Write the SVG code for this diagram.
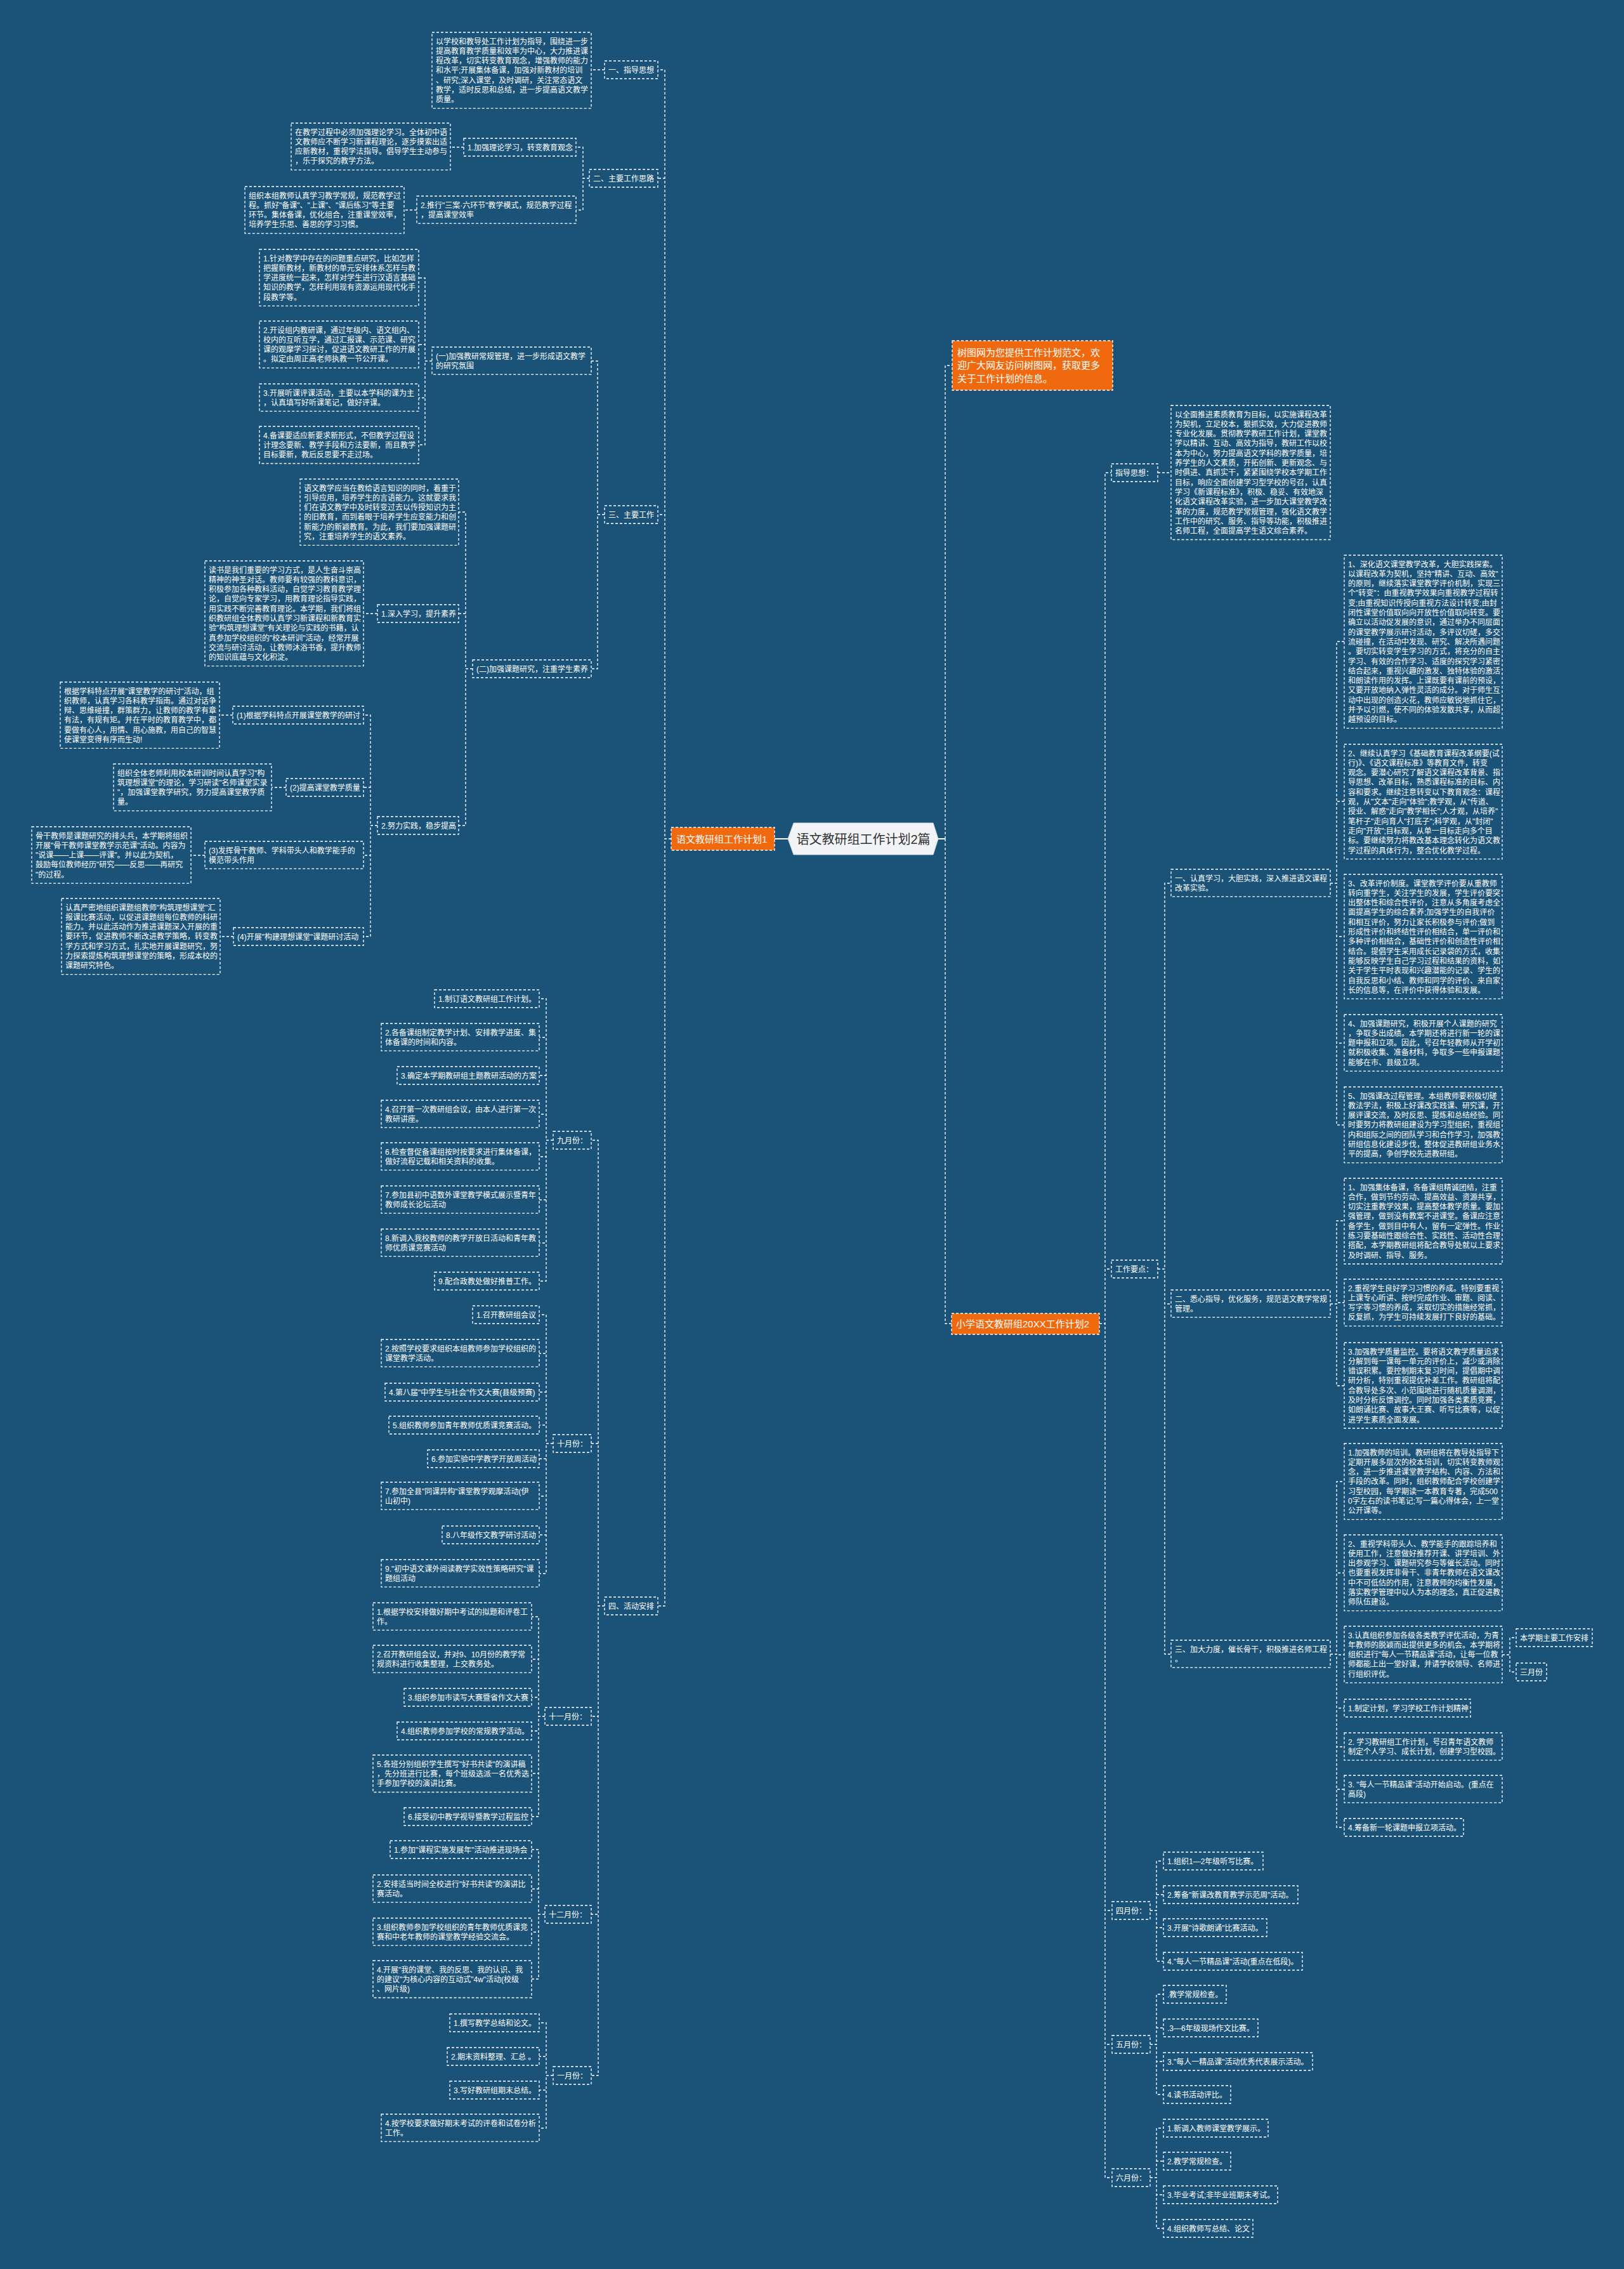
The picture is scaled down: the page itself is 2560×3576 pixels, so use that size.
<svg xmlns="http://www.w3.org/2000/svg" width="2560" height="3576" viewBox="0 0 2560 3576">
<style>
.t{font-family:"Liberation Sans","Noto Sans CJK SC",sans-serif;font-size:12px;fill:#fff}
.ot{font-family:"Liberation Sans","Noto Sans CJK SC",sans-serif;font-size:15px;fill:#fff}
.n{fill:none;stroke:#fff;stroke-width:1.3;stroke-dasharray:4 3}
.c{fill:none;stroke:#fff;stroke-width:1.3;stroke-dasharray:4 3}
.s{fill:none;stroke:#fff;stroke-width:2}
.o{fill:#F0690F;stroke:#fff;stroke-width:1.3;stroke-dasharray:4 3}
</style>
<rect width="2560" height="3576" fill="#1B5378"/>
<g id="connectors">
<path class="s" d="M1242,1322H1221M1479,1322H1490"/>
<path class="c" d="M1058,1322H1048V110H1037M1058,1322H1048V281H1037M1058,1322H1048V811H1037M1058,1322H1048V2531H1037"/>
<path class="c" d="M953,110H932"/>
<path class="c" d="M929,281H919V232H908M929,281H919V331H908"/>
<path class="c" d="M731,232H710"/>
<path class="c" d="M657,331H637"/>
<path class="c" d="M953,811H942V569H932M953,811H942V1054H932"/>
<path class="c" d="M681,569H670V438H660M681,569H670V543H660M681,569H670V627H660M681,569H670V701H660"/>
<path class="c" d="M745,1054H734V807H723M745,1054H734V967H723M745,1054H734V1301H723"/>
<path class="c" d="M595,967H573"/>
<path class="c" d="M595,1301H584V1127H573M595,1301H584V1241H573M595,1301H584V1348H573M595,1301H584V1476H573"/>
<path class="c" d="M367,1127H346M451,1241H428M323,1348H301M368,1476H347"/>
<path class="c" d="M953,2531H943V1797H932M953,2531H943V2275H932M953,2531H943V2705H932M953,2531H943V3017H932M953,2531H943V3271H932"/>
<path class="c" d="M872,1797H861V1574H850M872,1797H861V1635H850M872,1797H861V1695H850M872,1797H861V1756H850M872,1797H861V1823H850M872,1797H861V1891H850M872,1797H861V1959H850M872,1797H861V2019H850"/>
<path class="c" d="M872,2275H861V2072H850M872,2275H861V2133H850M872,2275H861V2194H850M872,2275H861V2246H850M872,2275H861V2299H850M872,2275H861V2358H850M872,2275H861V2419H850M872,2275H861V2480H850"/>
<path class="c" d="M859,2705H849V2548H838M859,2705H849V2615H838M859,2705H849V2675H838M859,2705H849V2728H838M859,2705H849V2795H838M859,2705H849V2863H838"/>
<path class="c" d="M859,3017H849V2915H838M859,3017H849V2977H838M859,3017H849V3045H838M859,3017H849V3119H838"/>
<path class="c" d="M872,3271H861V3188H850M872,3271H861V3241H850M872,3271H861V3294H850M872,3271H861V3354H850"/>
<path class="c" d="M1490,1322V576H1501M1490,1322V2086H1500"/>
<path class="c" d="M1733,2086H1742V745H1752M1733,2086H1742V2000H1752M1733,2086H1742V3011H1753M1733,2086H1742V3222H1753M1733,2086H1742V3432H1753"/>
<path class="c" d="M1825,745H1846"/>
<path class="c" d="M1825,2000H1836V1392H1846M1825,2000H1836V2055H1846M1825,2000H1836V2607H1846"/>
<path class="c" d="M2097,1392H2107V1011H2119M2097,1392H2107V1263H2119M2097,1392H2107V1476H2119M2097,1392H2107V1644H2119M2097,1392H2107V1773H2119"/>
<path class="c" d="M2097,2055H2107V1924H2119M2097,2055H2107V2053H2119M2097,2055H2107V2184H2119"/>
<path class="c" d="M2097,2607H2107V2335H2119M2097,2607H2107V2479H2119M2097,2607H2107V2608H2119M2097,2607H2107V2692H2119M2097,2607H2107V2753H2119M2097,2607H2107V2820H2119M2097,2607H2107V2880H2119"/>
<path class="c" d="M2368,2608H2380V2581H2390M2368,2608H2380V2635H2390"/>
<path class="c" d="M1813,3011H1823V2933H1834M1813,3011H1823V2986H1834M1813,3011H1823V3038H1834M1813,3011H1823V3091H1834"/>
<path class="c" d="M1813,3222H1823V3143H1834M1813,3222H1823V3196H1834M1813,3222H1823V3249H1834M1813,3222H1823V3301H1834"/>
<path class="c" d="M1813,3432H1823V3354H1834M1813,3432H1823V3406H1834M1813,3432H1823V3459H1834M1813,3432H1823V3512H1834"/>
</g>

<g id="root"><polygon points="1242,1322 1251,1297 1471,1297 1479,1322 1471,1347 1251,1347" fill="#F2F4F7" stroke="#cfd5db" stroke-width="1"/><text x="1361" y="1329.5" text-anchor="middle" font-family="Liberation Sans,Noto Sans CJK SC,sans-serif" font-size="20" fill="#333">语文教研组工作计划2篇</text></g>

<g id="plan1"><rect class="o" x="1058" y="1304" width="163" height="36"/><text class="ot" x="1066" y="1327.7">语文教研组工作计划1</text></g>
<g id="promo"><rect class="o" x="1501" y="537" width="253" height="78"/><text class="ot" x="1509" y="560.7"><tspan x="1509">树图网为您提供工作计划范文，欢</tspan><tspan x="1509" dy="20.5">迎广大网友访问树图网，获取更多</tspan><tspan x="1509" dy="20.5">关于工作计划的信息。</tspan></text></g>
<g id="plan2"><rect class="o" x="1500" y="2070" width="233" height="33"/><text class="ot" x="1507" y="2091.7">小学语文教研组20XX工作计划2</text></g>

<g id="a1"><rect class="n" x="953" y="96" width="84" height="28"/><text class="t" x="959" y="114.5">一、指导思想</text></g>
<g id="a2"><rect class="n" x="929" y="267" width="108" height="28"/><text class="t" x="935" y="285.5">二、主要工作思路</text></g>
<g id="a3"><rect class="n" x="953" y="797" width="84" height="28"/><text class="t" x="959" y="815.5">三、主要工作</text></g>
<g id="a4"><rect class="n" x="953" y="2517" width="84" height="28"/><text class="t" x="959" y="2535.5">四、活动安排</text></g>

<g id="b1"><rect class="n" x="681" y="51" width="251" height="119.7"/><text class="t" x="687" y="69.5"><tspan x="687">以学校和教导处工作计划为指导，围绕进一步</tspan><tspan x="687" dy="15.3">提高教育教学质量和效率为中心，大力推进课</tspan><tspan x="687" dy="15.3">程改革，切实转变教育观念，增强教师的能力</tspan><tspan x="687" dy="15.3">和水平;开展集体备课，加强对新教材的培训</tspan><tspan x="687" dy="15.3">、研究;深入课堂，及时调研，关注常态语文</tspan><tspan x="687" dy="15.3">教学，适时反思和总结，进一步提高语文教学</tspan><tspan x="687" dy="15.3">质量。</tspan></text></g>
<g id="b2"><rect class="n" x="731" y="218" width="177" height="28"/><text class="t" x="737" y="236.5">1.加强理论学习，转变教育观念</text></g>
<g id="b3"><rect class="n" x="657" y="309" width="251" height="43.2"/><text class="t" x="663" y="327.5"><tspan x="663">2.推行"三案·六环节"教学模式，规范教学过程</tspan><tspan x="663" dy="15.3">，提高课堂效率</tspan></text></g>
<g id="b4"><rect class="n" x="459" y="194" width="251" height="73.8"/><text class="t" x="465" y="212.5"><tspan x="465">在教学过程中必须加强理论学习。全体初中语</tspan><tspan x="465" dy="15.3">文教师应不断学习新课程理论，逐步摸索出适</tspan><tspan x="465" dy="15.3">应新教材，重视学法指导。倡导学生主动参与</tspan><tspan x="465" dy="15.3">，乐于探究的教学方法。</tspan></text></g>
<g id="b5"><rect class="n" x="386" y="294" width="251" height="73.8"/><text class="t" x="392" y="312.5"><tspan x="392">组织本组教师认真学习教学常规，规范教学过</tspan><tspan x="392" dy="15.3">程。抓好"备课"、"上课"、"课后练习"等主要</tspan><tspan x="392" dy="15.3">环节。集体备课，优化组合，注重课堂效率，</tspan><tspan x="392" dy="15.3">培养学生乐思、善思的学习习惯。</tspan></text></g>

<g id="c1"><rect class="n" x="681" y="547" width="251" height="43.2"/><text class="t" x="687" y="565.5"><tspan x="687">(一)加强教研常规管理，进一步形成语文教学</tspan><tspan x="687" dy="15.3">的研究氛围</tspan></text></g>
<g id="c2"><rect class="n" x="745" y="1040" width="187" height="28"/><text class="t" x="751" y="1058.5">(二)加强课题研究，注重学生素养</text></g>

<g id="d1"><rect class="n" x="409" y="393" width="251" height="89.1"/><text class="t" x="415" y="411.5"><tspan x="415">1.针对教学中存在的问题重点研究，比如怎样</tspan><tspan x="415" dy="15.3">把握新教材，新教材的单元安排体系怎样与教</tspan><tspan x="415" dy="15.3">学进度统一起来，怎样对学生进行汉语言基础</tspan><tspan x="415" dy="15.3">知识的教学，怎样利用现有资源运用现代化手</tspan><tspan x="415" dy="15.3">段教学等。</tspan></text></g>
<g id="d2"><rect class="n" x="409" y="506" width="251" height="73.8"/><text class="t" x="415" y="524.5"><tspan x="415">2.开设组内教研课，通过年级内、语文组内、</tspan><tspan x="415" dy="15.3">校内的互听互学，通过汇报课、示范课、研究</tspan><tspan x="415" dy="15.3">课的观摩学习探讨，促进语文教研工作的开展</tspan><tspan x="415" dy="15.3">。拟定由周正高老师执教一节公开课。</tspan></text></g>
<g id="d3"><rect class="n" x="409" y="605" width="251" height="43.2"/><text class="t" x="415" y="623.5"><tspan x="415">3.开展听课评课活动，主要以本学科的课为主</tspan><tspan x="415" dy="15.3">，认真填写好听课笔记，做好评课。</tspan></text></g>
<g id="d4"><rect class="n" x="409" y="672" width="251" height="58.5"/><text class="t" x="415" y="690.5"><tspan x="415">4.备课要适应新要求新形式，不但教学过程设</tspan><tspan x="415" dy="15.3">计理念要新、教学手段和方法要新，而且教学</tspan><tspan x="415" dy="15.3">目标要新，教后反思要不走过场。</tspan></text></g>

<g id="e1"><rect class="n" x="473" y="755" width="250" height="104.4"/><text class="t" x="479" y="773.5"><tspan x="479">语文教学应当在教给语言知识的同时，着重于</tspan><tspan x="479" dy="15.3">引导应用，培养学生的言语能力。这就要求我</tspan><tspan x="479" dy="15.3">们在语文教学中及时转变过去以传授知识为主</tspan><tspan x="479" dy="15.3">的旧教育，而到着眼于培养学生应变能力和创</tspan><tspan x="479" dy="15.3">新能力的新颖教育。为此，我们要加强课题研</tspan><tspan x="479" dy="15.3">究，注重培养学生的语文素养。</tspan></text></g>
<g id="e2"><rect class="n" x="595" y="953" width="128" height="28"/><text class="t" x="601" y="971.5">1.深入学习，提升素养</text></g>
<g id="e3"><rect class="n" x="595" y="1287" width="128" height="28"/><text class="t" x="601" y="1305.5">2.努力实践，稳步提高</text></g>
<g id="e4"><rect class="n" x="323" y="884" width="250" height="165.6"/><text class="t" x="329" y="902.5"><tspan x="329">读书是我们重要的学习方式，是人生奋斗崇高</tspan><tspan x="329" dy="15.3">精神的神圣对话。教师要有较强的教科意识，</tspan><tspan x="329" dy="15.3">积极参加各种教科活动，自觉学习教育教学理</tspan><tspan x="329" dy="15.3">论，自觉向专家学习，用教育理论指导实践，</tspan><tspan x="329" dy="15.3">用实践不断完善教育理论。本学期，我们将组</tspan><tspan x="329" dy="15.3">织教研组全体教师认真学习新课程和新教育实</tspan><tspan x="329" dy="15.3">验"构筑理想课堂"有关理论与实践的书籍，认</tspan><tspan x="329" dy="15.3">真参加学校组织的"校本研训"活动，经常开展</tspan><tspan x="329" dy="15.3">交流与研讨活动，让教师沐浴书香，提升教师</tspan><tspan x="329" dy="15.3">的知识底蕴与文化积淀。</tspan></text></g>

<g id="f1"><rect class="n" x="367" y="1113" width="206" height="28"/><text class="t" x="373" y="1131.5">(1)根据学科特点开展课堂教学的研讨</text></g>
<g id="f2"><rect class="n" x="451" y="1227" width="122" height="28"/><text class="t" x="457" y="1245.5">(2)提高课堂教学质量</text></g>
<g id="f3"><rect class="n" x="323" y="1326" width="250" height="43.2"/><text class="t" x="329" y="1344.5"><tspan x="329">(3)发挥骨干教师、学科带头人和教学能手的</tspan><tspan x="329" dy="15.3">模范带头作用</tspan></text></g>
<g id="f4"><rect class="n" x="368" y="1462" width="205" height="28"/><text class="t" x="374" y="1480.5">(4)开展"构建理想课堂"课题研讨活动</text></g>

<g id="g1"><rect class="n" x="95" y="1075" width="251" height="104.4"/><text class="t" x="101" y="1093.5"><tspan x="101">根据学科特点开展"课堂教学的研讨"活动，组</tspan><tspan x="101" dy="15.3">织教师，认真学习各科教学指南。通过对话争</tspan><tspan x="101" dy="15.3">辩、思维碰撞，群策群力，让教师的教学有章</tspan><tspan x="101" dy="15.3">有法，有规有矩。并在平时的教育教学中，都</tspan><tspan x="101" dy="15.3">要做有心人，用情、用心施教，用自己的智慧</tspan><tspan x="101" dy="15.3">使课堂变得有序而生动!</tspan></text></g>
<g id="g2"><rect class="n" x="179" y="1204" width="249" height="73.8"/><text class="t" x="185" y="1222.5"><tspan x="185">组织全体老师利用校本研训时间认真学习"构</tspan><tspan x="185" dy="15.3">筑理想课堂"的理论，学习研读"名师课堂实录</tspan><tspan x="185" dy="15.3">"，加强课堂教学研究，努力提高课堂教学质</tspan><tspan x="185" dy="15.3">量。</tspan></text></g>
<g id="g3"><rect class="n" x="50" y="1303" width="251" height="89.1"/><text class="t" x="56" y="1321.5"><tspan x="56">骨干教师是课题研究的排头兵，本学期将组织</tspan><tspan x="56" dy="15.3">开展"骨干教师课堂教学示范课"活动。内容为</tspan><tspan x="56" dy="15.3">"说课——上课——评课"。并以此为契机，</tspan><tspan x="56" dy="15.3">鼓励每位教师经历"研究——反思——再研究</tspan><tspan x="56" dy="15.3">"的过程。</tspan></text></g>
<g id="g4"><rect class="n" x="97" y="1416" width="250" height="119.7"/><text class="t" x="103" y="1434.5"><tspan x="103">认真严密地组织课题组教师"构筑理想课堂"汇</tspan><tspan x="103" dy="15.3">报课比赛活动，以促进课题组每位教师的科研</tspan><tspan x="103" dy="15.3">能力。并以此活动作为推进课题深入开展的重</tspan><tspan x="103" dy="15.3">要环节，促进教师不断改进教学策略，转变教</tspan><tspan x="103" dy="15.3">学方式和学习方式，扎实地开展课题研究，努</tspan><tspan x="103" dy="15.3">力探索提炼构筑理想课堂的策略，形成本校的</tspan><tspan x="103" dy="15.3">课题研究特色。</tspan></text></g>

<g id="m9"><rect class="n" x="872" y="1783" width="60" height="28"/><text class="t" x="878" y="1801.5">九月份：</text></g>
<g id="m10"><rect class="n" x="872" y="2261" width="60" height="28"/><text class="t" x="878" y="2279.5">十月份：</text></g>
<g id="m11"><rect class="n" x="859" y="2691" width="73" height="28"/><text class="t" x="865" y="2709.5">十一月份：</text></g>
<g id="m12"><rect class="n" x="859" y="3003" width="73" height="28"/><text class="t" x="865" y="3021.5">十二月份：</text></g>
<g id="m1"><rect class="n" x="872" y="3257" width="60" height="28"/><text class="t" x="878" y="3275.5">一月份：</text></g>

<g id="s9a"><rect class="n" x="685" y="1560" width="165" height="28"/><text class="t" x="691" y="1578.5">1.制订语文教研组工作计划。</text></g>
<g id="s9b"><rect class="n" x="601" y="1613" width="249" height="43.2"/><text class="t" x="607" y="1631.5"><tspan x="607">2.各备课组制定教学计划、安排教学进度、集</tspan><tspan x="607" dy="15.3">体备课的时间和内容。</tspan></text></g>
<g id="s9c"><rect class="n" x="626" y="1681" width="224" height="28"/><text class="t" x="632" y="1699.5">3.确定本学期教研组主题教研活动的方案</text></g>
<g id="s9d"><rect class="n" x="601" y="1734" width="249" height="43.2"/><text class="t" x="607" y="1752.5"><tspan x="607">4.召开第一次教研组会议，由本人进行第一次</tspan><tspan x="607" dy="15.3">教研讲座。</tspan></text></g>
<g id="s9e"><rect class="n" x="601" y="1801" width="249" height="43.2"/><text class="t" x="607" y="1819.5"><tspan x="607">6.检查督促备课组按时按要求进行集体备课，</tspan><tspan x="607" dy="15.3">做好流程记载和相关资料的收集。</tspan></text></g>
<g id="s9f"><rect class="n" x="601" y="1869" width="249" height="43.2"/><text class="t" x="607" y="1887.5"><tspan x="607">7.参加县初中语数外课堂教学模式展示暨青年</tspan><tspan x="607" dy="15.3">教师成长论坛活动</tspan></text></g>
<g id="s9g"><rect class="n" x="601" y="1937" width="249" height="43.2"/><text class="t" x="607" y="1955.5"><tspan x="607">8.新调入我校教师的教学开放日活动和青年教</tspan><tspan x="607" dy="15.3">师优质课竞赛活动</tspan></text></g>
<g id="s9h"><rect class="n" x="685" y="2005" width="165" height="28"/><text class="t" x="691" y="2023.5">9.配合政教处做好推普工作。</text></g>

<g id="s10a"><rect class="n" x="745" y="2058" width="105" height="28"/><text class="t" x="751" y="2076.5">1.召开教研组会议</text></g>
<g id="s10b"><rect class="n" x="601" y="2111" width="249" height="43.2"/><text class="t" x="607" y="2129.5"><tspan x="607">2.按照学校要求组织本组教师参加学校组织的</tspan><tspan x="607" dy="15.3">课堂教学活动。</tspan></text></g>
<g id="s10c"><rect class="n" x="607" y="2180" width="243" height="28"/><text class="t" x="613" y="2198.5">4.第八届"中学生与社会"作文大赛(县级预赛)</text></g>
<g id="s10d"><rect class="n" x="613" y="2232" width="237" height="28"/><text class="t" x="619" y="2250.5">5.组织教师参加青年教师优质课竞赛活动。</text></g>
<g id="s10e"><rect class="n" x="674" y="2285" width="176" height="28"/><text class="t" x="680" y="2303.5">6.参加实验中学教学开放周活动</text></g>
<g id="s10f"><rect class="n" x="601" y="2336" width="249" height="43.2"/><text class="t" x="607" y="2354.5"><tspan x="607">7.参加全县"同课异构"课堂教学观摩活动(伊</tspan><tspan x="607" dy="15.3">山初中)</tspan></text></g>
<g id="s10g"><rect class="n" x="697" y="2405" width="153" height="28"/><text class="t" x="703" y="2423.5">8.八年级作文教学研讨活动</text></g>
<g id="s10h"><rect class="n" x="601" y="2458" width="249" height="43.2"/><text class="t" x="607" y="2476.5"><tspan x="607">9."初中语文课外阅读教学实效性策略研究"课</tspan><tspan x="607" dy="15.3">题组活动</tspan></text></g>

<g id="s11a"><rect class="n" x="588" y="2526" width="250" height="43.2"/><text class="t" x="594" y="2544.5"><tspan x="594">1.根据学校安排做好期中考试的拟题和评卷工</tspan><tspan x="594" dy="15.3">作。</tspan></text></g>
<g id="s11b"><rect class="n" x="588" y="2593" width="250" height="43.2"/><text class="t" x="594" y="2611.5"><tspan x="594">2.召开教研组会议，并对9、10月份的教学常</tspan><tspan x="594" dy="15.3">规资料进行收集整理，上交教务处。</tspan></text></g>
<g id="s11c"><rect class="n" x="637" y="2661" width="201" height="28"/><text class="t" x="643" y="2679.5">3.组织参加市读写大赛暨省作文大赛</text></g>
<g id="s11d"><rect class="n" x="626" y="2714" width="212" height="28"/><text class="t" x="632" y="2732.5">4.组织教师参加学校的常规教学活动。</text></g>
<g id="s11e"><rect class="n" x="588" y="2766" width="250" height="58.5"/><text class="t" x="594" y="2784.5"><tspan x="594">5.各班分别组织学生撰写"好书共读"的演讲稿</tspan><tspan x="594" dy="15.3">，先分班进行比赛，每个班级选派一名优秀选</tspan><tspan x="594" dy="15.3">手参加学校的演讲比赛。</tspan></text></g>
<g id="s11f"><rect class="n" x="637" y="2849" width="201" height="28"/><text class="t" x="643" y="2867.5">6.接受初中教学视导暨教学过程监控</text></g>

<g id="s12a"><rect class="n" x="615" y="2901" width="223" height="28"/><text class="t" x="621" y="2919.5">1.参加"课程实施发展年"活动推进现场会</text></g>
<g id="s12b"><rect class="n" x="588" y="2955" width="250" height="43.2"/><text class="t" x="594" y="2973.5"><tspan x="594">2.安排适当时间全校进行"好书共读"的演讲比</tspan><tspan x="594" dy="15.3">赛活动。</tspan></text></g>
<g id="s12c"><rect class="n" x="588" y="3023" width="250" height="43.2"/><text class="t" x="594" y="3041.5"><tspan x="594">3.组织教师参加学校组织的青年教师优质课竞</tspan><tspan x="594" dy="15.3">赛和中老年教师的课堂教学经验交流会。</tspan></text></g>
<g id="s12d"><rect class="n" x="588" y="3090" width="250" height="58.5"/><text class="t" x="594" y="3108.5"><tspan x="594">4.开展"我的课堂、我的反思、我的认识、我</tspan><tspan x="594" dy="15.3">的建议"为核心内容的互动式"4w"活动(校级</tspan><tspan x="594" dy="15.3">、网片级)</tspan></text></g>

<g id="s1a"><rect class="n" x="709" y="3174" width="141" height="28"/><text class="t" x="715" y="3192.5">1.撰写教学总结和论文。</text></g>
<g id="s1b"><rect class="n" x="705" y="3227" width="145" height="28"/><text class="t" x="711" y="3245.5">2.期末资料整理、汇总 。</text></g>
<g id="s1c"><rect class="n" x="709" y="3280" width="141" height="28"/><text class="t" x="715" y="3298.5">3.写好教研组期末总结。</text></g>
<g id="s1d"><rect class="n" x="601" y="3332" width="249" height="43.2"/><text class="t" x="607" y="3350.5"><tspan x="607">4.按学校要求做好期末考试的评卷和试卷分析</tspan><tspan x="607" dy="15.3">工作。</tspan></text></g>

<g id="r1"><rect class="n" x="1752" y="731" width="73" height="28"/><text class="t" x="1758" y="749.5">指导思想：</text></g>
<g id="r2"><rect class="n" x="1846" y="639" width="251" height="211.5"/><text class="t" x="1852" y="657.5"><tspan x="1852">以全面推进素质教育为目标，以实施课程改革</tspan><tspan x="1852" dy="15.3">为契机，立足校本，狠抓实效，大力促进教师</tspan><tspan x="1852" dy="15.3">专业化发展。贯彻教学教研工作计划，课堂教</tspan><tspan x="1852" dy="15.3">学以精讲、互动、高效为指导，教研工作以校</tspan><tspan x="1852" dy="15.3">本为中心，努力提高语文学科的教学质量，培</tspan><tspan x="1852" dy="15.3">养学生的人文素质，开拓创新、更新观念、与</tspan><tspan x="1852" dy="15.3">时俱进、真抓实干，紧紧围绕学校本学期工作</tspan><tspan x="1852" dy="15.3">目标，响应全面创建学习型学校的号召，认真</tspan><tspan x="1852" dy="15.3">学习《新课程标准》，积极、稳妥、有效地深</tspan><tspan x="1852" dy="15.3">化语文课程改革实验，进一步加大课堂教学改</tspan><tspan x="1852" dy="15.3">革的力度，规范教学常规管理，强化语文教学</tspan><tspan x="1852" dy="15.3">工作中的研究、服务、指导等功能，积极推进</tspan><tspan x="1852" dy="15.3">名师工程，全面提高学生语文综合素养。</tspan></text></g>
<g id="r3"><rect class="n" x="1752" y="1986" width="73" height="28"/><text class="t" x="1758" y="2004.5">工作要点：</text></g>
<g id="r4"><rect class="n" x="1753" y="2997" width="60" height="28"/><text class="t" x="1759" y="3015.5">四月份：</text></g>
<g id="r5"><rect class="n" x="1753" y="3208" width="60" height="28"/><text class="t" x="1759" y="3226.5">五月份：</text></g>
<g id="r6"><rect class="n" x="1753" y="3418" width="60" height="28"/><text class="t" x="1759" y="3436.5">六月份：</text></g>

<g id="k1"><rect class="n" x="1846" y="1370" width="251" height="43.2"/><text class="t" x="1852" y="1388.5"><tspan x="1852">一、认真学习，大胆实践，深入推进语文课程</tspan><tspan x="1852" dy="15.3">改革实验。</tspan></text></g>
<g id="k2"><rect class="n" x="1846" y="2033" width="251" height="43.2"/><text class="t" x="1852" y="2051.5"><tspan x="1852">二、悉心指导，优化服务，规范语文教学常规</tspan><tspan x="1852" dy="15.3">管理。</tspan></text></g>
<g id="k3"><rect class="n" x="1846" y="2585" width="251" height="43.2"/><text class="t" x="1852" y="2603.5"><tspan x="1852">三、加大力度，催长骨干，积极推进名师工程</tspan><tspan x="1852" dy="15.3">。</tspan></text></g>

<g id="t1"><rect class="n" x="2119" y="875" width="249" height="272.7"/><text class="t" x="2125" y="893.5"><tspan x="2125">1、深化语文课堂教学改革，大胆实践探索。</tspan><tspan x="2125" dy="15.3">以课程改革为契机，坚持"精讲、互动、高效"</tspan><tspan x="2125" dy="15.3">的原则，继续落实课堂教学评价机制，实现三</tspan><tspan x="2125" dy="15.3">个"转变"：由重视教学效果向重视教学过程转</tspan><tspan x="2125" dy="15.3">变;由重视知识传授向重视方法设计转变;由封</tspan><tspan x="2125" dy="15.3">闭性课堂价值取向向开放性价值取向转变。要</tspan><tspan x="2125" dy="15.3">确立以活动促发展的意识，通过举办不同层面</tspan><tspan x="2125" dy="15.3">的课堂教学展示研讨活动，多评议切磋，多交</tspan><tspan x="2125" dy="15.3">流碰撞，在活动中发现、研究、解决所遇问题</tspan><tspan x="2125" dy="15.3">。要切实转变学生学习的方式，将充分的自主</tspan><tspan x="2125" dy="15.3">学习、有效的合作学习、适度的探究学习紧密</tspan><tspan x="2125" dy="15.3">结合起来，重视兴趣的激发、独特体验的激活</tspan><tspan x="2125" dy="15.3">和朗读作用的发挥。上课既要有课前的预设，</tspan><tspan x="2125" dy="15.3">又要开放地纳入弹性灵活的成分。对于师生互</tspan><tspan x="2125" dy="15.3">动中出现的创造火花，教师应敏锐地抓住它，</tspan><tspan x="2125" dy="15.3">并予以引燃，使不同的体验发散共享，从而超</tspan><tspan x="2125" dy="15.3">越预设的目标。</tspan></text></g>
<g id="t2"><rect class="n" x="2119" y="1173" width="249" height="180.9"/><text class="t" x="2125" y="1191.5"><tspan x="2125">2、继续认真学习《基础教育课程改革纲要(试</tspan><tspan x="2125" dy="15.3">行)》、《语文课程标准》等教育文件，转变</tspan><tspan x="2125" dy="15.3">观念。要潜心研究了解语文课程改革背景、指</tspan><tspan x="2125" dy="15.3">导思想、改革目标，熟悉课程标准的目标、内</tspan><tspan x="2125" dy="15.3">容和要求。继续注意转变以下教育观念：课程</tspan><tspan x="2125" dy="15.3">观，从"文本"走向"体验";教学观，从"传道、</tspan><tspan x="2125" dy="15.3">授业、解惑"走向"教学相长";人才观，从培养"</tspan><tspan x="2125" dy="15.3">笔杆子"走向育人"打底子";科学观，从"封闭"</tspan><tspan x="2125" dy="15.3">走向"开放";目标观，从单一目标走向多个目</tspan><tspan x="2125" dy="15.3">标。要继续努力将教改基本理念转化为语文教</tspan><tspan x="2125" dy="15.3">学过程的具体行为，整合优化教学过程。</tspan></text></g>
<g id="t3"><rect class="n" x="2119" y="1378" width="249" height="196.2"/><text class="t" x="2125" y="1396.5"><tspan x="2125">3、改革评价制度。课堂教学评价要从重教师</tspan><tspan x="2125" dy="15.3">转向重学生，关注学生的发展，学生评价要突</tspan><tspan x="2125" dy="15.3">出整体性和综合性评价，注意从多角度考虑全</tspan><tspan x="2125" dy="15.3">面提高学生的综合素养;加强学生的自我评价</tspan><tspan x="2125" dy="15.3">和相互评价，努力让家长积极参与评价;做到</tspan><tspan x="2125" dy="15.3">形成性评价和终结性评价相结合，单一评价和</tspan><tspan x="2125" dy="15.3">多种评价相结合，基础性评价和创造性评价相</tspan><tspan x="2125" dy="15.3">结合。提倡学生采用成长记录袋的方式，收集</tspan><tspan x="2125" dy="15.3">能够反映学生自己学习过程和结果的资料，如</tspan><tspan x="2125" dy="15.3">关于学生平时表现和兴趣潜能的记录、学生的</tspan><tspan x="2125" dy="15.3">自我反思和小结、教师和同学的评价、来自家</tspan><tspan x="2125" dy="15.3">长的信息等，在评价中获得体验和发展。</tspan></text></g>
<g id="t4"><rect class="n" x="2119" y="1599" width="249" height="89.1"/><text class="t" x="2125" y="1617.5"><tspan x="2125">4、加强课题研究，积极开展个人课题的研究</tspan><tspan x="2125" dy="15.3">，争取多出成绩。本学期还将进行新一轮的课</tspan><tspan x="2125" dy="15.3">题申报和立项。因此，号召年轻教师从开学初</tspan><tspan x="2125" dy="15.3">就积极收集、准备材料，争取多一些申报课题</tspan><tspan x="2125" dy="15.3">能够在市、县级立项。</tspan></text></g>
<g id="t5"><rect class="n" x="2119" y="1713" width="249" height="119.7"/><text class="t" x="2125" y="1731.5"><tspan x="2125">5、加强课改过程管理。本组教师要积极切磋</tspan><tspan x="2125" dy="15.3">教法学法，积极上好课改实践课、研究课，开</tspan><tspan x="2125" dy="15.3">展评课交流，及时反思、提炼和总结经验。同</tspan><tspan x="2125" dy="15.3">时要努力将教研组建设为学习型组织，重视组</tspan><tspan x="2125" dy="15.3">内和组际之间的团队学习和合作学习，加强教</tspan><tspan x="2125" dy="15.3">研组信息化建设步伐，整体促进教研组业务水</tspan><tspan x="2125" dy="15.3">平的提高，争创学校先进教研组。</tspan></text></g>

<g id="u1"><rect class="n" x="2119" y="1857" width="249" height="135"/><text class="t" x="2125" y="1875.5"><tspan x="2125">1、加强集体备课，各备课组精诚团结，注重</tspan><tspan x="2125" dy="15.3">合作，做到节约劳动、提高效益、资源共享，</tspan><tspan x="2125" dy="15.3">切实注重教学效果，提高整体教学质量。要加</tspan><tspan x="2125" dy="15.3">强管理，做到没有教案不进课堂。备课应注意</tspan><tspan x="2125" dy="15.3">备学生，做到目中有人，留有一定弹性。作业</tspan><tspan x="2125" dy="15.3">练习要基础性跟综合性、实践性、活动性合理</tspan><tspan x="2125" dy="15.3">搭配，本学期教研组将配合教导处就以上要求</tspan><tspan x="2125" dy="15.3">及时调研、指导、服务。</tspan></text></g>
<g id="u2"><rect class="n" x="2119" y="2016" width="249" height="73.8"/><text class="t" x="2125" y="2034.5"><tspan x="2125">2.重视学生良好学习习惯的养成。特别要重视</tspan><tspan x="2125" dy="15.3">上课专心听讲、按时完成作业、审题、阅读、</tspan><tspan x="2125" dy="15.3">写字等习惯的养成，采取切实的措施经常抓，</tspan><tspan x="2125" dy="15.3">反复抓，为学生可持续发展打下良好的基础。</tspan></text></g>
<g id="u3"><rect class="n" x="2119" y="2116" width="249" height="135"/><text class="t" x="2125" y="2134.5"><tspan x="2125">3.加强教学质量监控。要将语文教学质量追求</tspan><tspan x="2125" dy="15.3">分解到每一课每一单元的评价上，减少或消除</tspan><tspan x="2125" dy="15.3">错误积累。要控制期末复习时间，提倡期中调</tspan><tspan x="2125" dy="15.3">研分析，特别重视提优补差工作。教研组将配</tspan><tspan x="2125" dy="15.3">合教导处多次、小范围地进行随机质量调测，</tspan><tspan x="2125" dy="15.3">及时分析反馈调控。同时加强各类素质竞赛，</tspan><tspan x="2125" dy="15.3">如朗诵比赛、故事大王赛、听写比赛等，以促</tspan><tspan x="2125" dy="15.3">进学生素质全面发展。</tspan></text></g>

<g id="v1"><rect class="n" x="2119" y="2275" width="249" height="119.7"/><text class="t" x="2125" y="2293.5"><tspan x="2125">1.加强教师的培训。教研组将在教导处指导下</tspan><tspan x="2125" dy="15.3">定期开展多层次的校本培训，切实转变教师观</tspan><tspan x="2125" dy="15.3">念，进一步推进课堂教学结构、内容、方法和</tspan><tspan x="2125" dy="15.3">手段的改革。同时，组织教师配合学校创建学</tspan><tspan x="2125" dy="15.3">习型校园，每学期读一本教育专著，完成500</tspan><tspan x="2125" dy="15.3">0字左右的读书笔记;写一篇心得体会，上一堂</tspan><tspan x="2125" dy="15.3">公开课等。</tspan></text></g>
<g id="v2"><rect class="n" x="2119" y="2419" width="249" height="119.7"/><text class="t" x="2125" y="2437.5"><tspan x="2125">2、重视学科带头人、教学能手的跟踪培养和</tspan><tspan x="2125" dy="15.3">使用工作，注意做好推荐开课、讲学培训、外</tspan><tspan x="2125" dy="15.3">出参观学习、课题研究参与等催长活动。同时</tspan><tspan x="2125" dy="15.3">也要重视发挥非骨干、非青年教师在语文课改</tspan><tspan x="2125" dy="15.3">中不可低估的作用，注意教师的均衡性发展，</tspan><tspan x="2125" dy="15.3">落实教学管理中以人为本的理念，真正促进教</tspan><tspan x="2125" dy="15.3">师队伍建设。</tspan></text></g>
<g id="v3"><rect class="n" x="2119" y="2563" width="249" height="89.1"/><text class="t" x="2125" y="2581.5"><tspan x="2125">3.认真组织参加各级各类教学评优活动，为青</tspan><tspan x="2125" dy="15.3">年教师的脱颖而出提供更多的机会。本学期将</tspan><tspan x="2125" dy="15.3">组织进行"每人一节精品课"活动，让每一位教</tspan><tspan x="2125" dy="15.3">师都能上出一堂好课，并请学校领导、名师进</tspan><tspan x="2125" dy="15.3">行组织评优。</tspan></text></g>
<g id="v4"><rect class="n" x="2119" y="2678" width="199" height="28"/><text class="t" x="2125" y="2696.5">1.制定计划，学习学校工作计划精神</text></g>
<g id="v5"><rect class="n" x="2119" y="2731" width="249" height="43.2"/><text class="t" x="2125" y="2749.5"><tspan x="2125">2. 学习教研组工作计划，号召青年语文教师</tspan><tspan x="2125" dy="15.3">制定个人学习、成长计划，创建学习型校园。</tspan></text></g>
<g id="v6"><rect class="n" x="2119" y="2798" width="249" height="43.2"/><text class="t" x="2125" y="2816.5"><tspan x="2125">3. "每人一节精品课"活动开始启动。(重点在</tspan><tspan x="2125" dy="15.3">高段)</tspan></text></g>
<g id="v7"><rect class="n" x="2119" y="2866" width="188" height="28"/><text class="t" x="2125" y="2884.5">4.筹备新一轮课题申报立项活动。</text></g>

<g id="w1"><rect class="n" x="2390" y="2567" width="120" height="28"/><text class="t" x="2396" y="2585.5">本学期主要工作安排</text></g>
<g id="w2"><rect class="n" x="2390" y="2621" width="48" height="28"/><text class="t" x="2396" y="2639.5">三月份</text></g>

<g id="x1"><rect class="n" x="1834" y="2919" width="157" height="28"/><text class="t" x="1840" y="2937.5">1.组织1—2年级听写比赛。</text></g>
<g id="x2"><rect class="n" x="1834" y="2972" width="212" height="28"/><text class="t" x="1840" y="2990.5">2.筹备"新课改教育教学示范周"活动。</text></g>
<g id="x3"><rect class="n" x="1834" y="3024" width="163" height="28"/><text class="t" x="1840" y="3042.5">3.开展"诗歌朗诵"比赛活动。</text></g>
<g id="x4"><rect class="n" x="1834" y="3077" width="219" height="28"/><text class="t" x="1840" y="3095.5">4."每人一节精品课"活动(重点在低段)。</text></g>
<g id="y1"><rect class="n" x="1834" y="3129" width="99" height="28"/><text class="t" x="1840" y="3147.5">.教学常规检查。</text></g>
<g id="y2"><rect class="n" x="1834" y="3182" width="149" height="28"/><text class="t" x="1840" y="3200.5">.3—6年级现场作文比赛。</text></g>
<g id="y3"><rect class="n" x="1834" y="3235" width="235" height="28"/><text class="t" x="1840" y="3253.5">3."每人一精品课"活动优秀代表展示活动。</text></g>
<g id="y4"><rect class="n" x="1834" y="3287" width="106" height="28"/><text class="t" x="1840" y="3305.5">4.读书活动评比。</text></g>
<g id="z1"><rect class="n" x="1834" y="3340" width="165" height="28"/><text class="t" x="1840" y="3358.5">1.新调入教师课堂教学展示。</text></g>
<g id="z2"><rect class="n" x="1834" y="3392" width="106" height="28"/><text class="t" x="1840" y="3410.5">2.教学常规检查。</text></g>
<g id="z3"><rect class="n" x="1834" y="3445" width="180" height="28"/><text class="t" x="1840" y="3463.5">3.毕业考试;非毕业班期末考试。</text></g>
<g id="z4"><rect class="n" x="1834" y="3498" width="141" height="28"/><text class="t" x="1840" y="3516.5">4.组织教师写总结、论文</text></g>
</svg>
